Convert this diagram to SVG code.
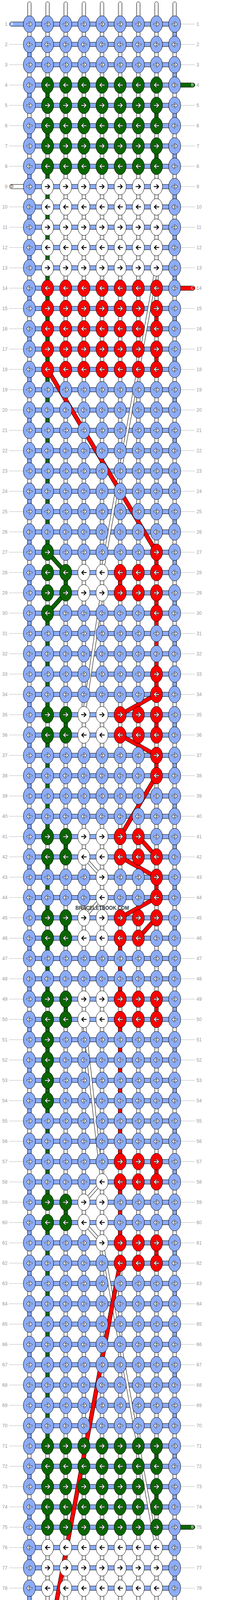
<svg xmlns="http://www.w3.org/2000/svg" width="584" height="4648" viewBox="0 0 584 4648">
<style>
text{font-family:"Liberation Sans",Arial,sans-serif}
.L,.R{font-size:12px;fill:#9a9a9a}
.L{text-anchor:end}
.s{font-size:10px;text-anchor:middle}
.b{fill:#8cacf8}.g{fill:#0a6600}.r{fill:#ff0000}.w{fill:#fff}
.gl{stroke:#bbb;stroke-width:1;fill:none}
.cg rect{stroke:#000;stroke-width:1}
</style>
<defs>
<ellipse id="e" rx="15.5" ry="21.3" stroke="#000" stroke-width="1"/>
<path id="a" d="M-6 0H5.5M0.5-5L5.5 0L0.5 5" fill="none" stroke-linecap="round" stroke-linejoin="round"/>
<g id="ar"><use href="#a" stroke="#1a1a1a" stroke-width="3.8"/><use href="#a" stroke="#fff" stroke-width="1.9"/></g>
<g id="al" transform="scale(-1 1)"><use href="#a" stroke="#1a1a1a" stroke-width="3.8"/><use href="#a" stroke="#fff" stroke-width="1.9"/></g>
<g id="kr"><use href="#a" stroke="#000" stroke-width="2.3"/></g>
<g id="kl" transform="scale(-1 1)"><use href="#a" stroke="#000" stroke-width="2.3"/></g>
<g id="BR"><use href="#e" class="b"/><use href="#ar"/></g>
<g id="BL"><use href="#e" class="b"/><use href="#al"/></g>
<g id="GR"><use href="#e" class="g"/><use href="#ar"/></g>
<g id="GL"><use href="#e" class="g"/><use href="#al"/></g>
<g id="RR"><use href="#e" class="r"/><use href="#ar"/></g>
<g id="RL"><use href="#e" class="r"/><use href="#al"/></g>
<g id="WR"><use href="#e" class="w"/><use href="#kr"/></g>
<g id="WL"><use href="#e" class="w"/><use href="#kl"/></g>
<path id="gb" class="gl" d="M23 0h37M463 0h36"/>
<path id="gL" class="gl" d="M23 0h37"/>
<path id="gR" class="gl" d="M463 0h36"/>
<path id="sl" d="M62-5.5H29.5a5.5 5.5 0 0 0 0 11H62z" stroke="#000" stroke-width="1"/>
<path id="sr" d="M440-5.5H493.5a5.5 5.5 0 0 1 0 11H440z" stroke="#000" stroke-width="1"/>
<g id="col"><rect x="-4.65" y="5" width="9.3" height="4638.6" rx="4.65" fill="#fff" stroke="#000" stroke-width="1"/><path d="M-2.2 9V4639.6M2.2 9V4639.6" stroke="#cfcfcf" stroke-width="1"/></g>
</defs>
<g transform="translate(0.3 -0.3)">
<g id="vertical-threads">
<use href="#col" x="75"/><use href="#col" x="121.5"/><use href="#col" x="168"/><use href="#col" x="214.5"/><use href="#col" x="261"/><use href="#col" x="307.5"/><use href="#col" x="354"/><use href="#col" x="400.5"/><use href="#col" x="447"/>
</g>
<g id="connectors">
<g class="cg">
<path class="b" stroke="#000" d="M70.35 128h9.3v24h-9.3zm0 104h9.3v24h-9.3zm0 104h9.3v24h-9.3zm0 104h9.3v24h-9.3zm0 104h9.3v24h-9.3zm0 104h9.3v24h-9.3zm0 104h9.3v24h-9.3zm0 104h9.3v24h-9.3zm0 104h9.3v24h-9.3zm0 104h9.3v24h-9.3zm0 104h9.3v24h-9.3zm0 104h9.3v24h-9.3zm0 104h9.3v24h-9.3zm0 104h9.3v24h-9.3zm0 104h9.3v24h-9.3zm0 104h9.3v24h-9.3zm0 104h9.3v24h-9.3zm0 104h9.3v24h-9.3zm0 104h9.3v24h-9.3zm0 104h9.3v24h-9.3zm0 104h9.3v24h-9.3zm0 104h9.3v24h-9.3zm0 104h9.3v24h-9.3zm0 104h9.3v24h-9.3zm0 104h9.3v24h-9.3zm0 104h9.3v24h-9.3zm0 104h9.3v24h-9.3zm0 104h9.3v24h-9.3zm0 104h9.3v24h-9.3zm0 104h9.3v24h-9.3zm0 104h9.3v24h-9.3zm0 104h9.3v24h-9.3zm0 104h9.3v24h-9.3zm0 104h9.3v24h-9.3zm0 104h9.3v24h-9.3zm0 104h9.3v24h-9.3zm0 104h9.3v24h-9.3zm0 104h9.3v24h-9.3zm0 104h9.3v24h-9.3zm0 104h9.3v24h-9.3zm0 104h9.3v24h-9.3zm0 104h9.3v24h-9.3zm0 104h9.3v24h-9.3z"/>
<path class="b" stroke="#000" d="M442.35 76h9.3v24h-9.3zm0 104h9.3v24h-9.3zm0 104h9.3v24h-9.3zm0 104h9.3v24h-9.3zm0 104h9.3v24h-9.3zm0 104h9.3v24h-9.3zm0 104h9.3v24h-9.3zm0 104h9.3v24h-9.3zm0 104h9.3v24h-9.3zm0 104h9.3v24h-9.3zm0 104h9.3v24h-9.3zm0 104h9.3v24h-9.3zm0 104h9.3v24h-9.3zm0 104h9.3v24h-9.3zm0 104h9.3v24h-9.3zm0 104h9.3v24h-9.3zm0 104h9.3v24h-9.3zm0 104h9.3v24h-9.3zm0 104h9.3v24h-9.3zm0 104h9.3v24h-9.3zm0 104h9.3v24h-9.3zm0 104h9.3v24h-9.3zm0 104h9.3v24h-9.3zm0 104h9.3v24h-9.3zm0 104h9.3v24h-9.3zm0 104h9.3v24h-9.3zm0 104h9.3v24h-9.3zm0 104h9.3v24h-9.3zm0 104h9.3v24h-9.3zm0 104h9.3v24h-9.3zm0 104h9.3v24h-9.3zm0 104h9.3v24h-9.3zm0 104h9.3v24h-9.3zm0 104h9.3v24h-9.3zm0 104h9.3v24h-9.3zm0 104h9.3v24h-9.3zm0 104h9.3v24h-9.3zm0 104h9.3v24h-9.3zm0 104h9.3v24h-9.3zm0 104h9.3v24h-9.3zm0 104h9.3v24h-9.3zm0 104h9.3v24h-9.3zm0 104h9.3v24h-9.3zm0 104h9.3v24h-9.3z"/>
<rect class="g" x="116.85" y="232" width="9.3" height="24"/>
<rect class="g" x="116.85" y="336" width="9.3" height="24"/>
<rect class="g" x="116.85" y="440" width="9.3" height="960"/>
<rect class="g" x="116.85" y="1584" width="9.3" height="232"/>
<rect class="g" x="116.85" y="1896" width="9.3" height="232"/>
<rect class="g" x="116.85" y="2208" width="9.3" height="128"/>
<rect class="g" x="116.85" y="2416" width="9.3" height="128"/>
<rect class="g" x="116.85" y="2624" width="9.3" height="440"/>
<rect class="g" x="116.85" y="3144" width="9.3" height="544"/>
<rect class="g" x="116.85" y="3768" width="9.3" height="24"/>
<rect class="g" x="116.85" y="3872" width="9.3" height="24"/>
<rect class="g" x="163.35" y="1480" width="9.3" height="24"/>
<rect class="g" x="163.35" y="1844" width="9.3" height="24"/>
<rect class="g" x="163.35" y="2156" width="9.3" height="24"/>
<rect class="g" x="163.35" y="2364" width="9.3" height="24"/>
<rect class="g" x="163.35" y="2572" width="9.3" height="24"/>
<rect class="g" x="163.35" y="3092" width="9.3" height="24"/>
<rect class="g" x="395.85" y="284" width="9.3" height="24"/>
<rect class="g" x="395.85" y="388" width="9.3" height="24"/>
<rect class="g" x="395.85" y="3716" width="9.3" height="24"/>
<rect class="g" x="395.85" y="3820" width="9.3" height="24"/>
<rect class="r" x="395.85" y="804" width="9.3" height="24"/>
<rect class="r" x="395.85" y="908" width="9.3" height="24"/>
<rect class="r" x="395.85" y="1428" width="9.3" height="24"/>
<rect class="r" x="395.85" y="1532" width="9.3" height="232"/>
<rect class="r" x="395.85" y="1844" width="9.3" height="24"/>
<rect class="r" x="395.85" y="1948" width="9.3" height="24"/>
<rect class="r" x="395.85" y="2260" width="9.3" height="24"/>
<rect class="r" x="395.85" y="2572" width="9.3" height="24"/>
<rect class="r" x="395.85" y="2988" width="9.3" height="24"/>
<rect class="r" x="395.85" y="3196" width="9.3" height="24"/>
<rect class="r" x="395.85" y="4236" width="9.3" height="24"/>
<rect class="r" x="395.85" y="4340" width="9.3" height="24"/>
<rect class="r" x="302.85" y="1480" width="9.3" height="24"/>
<rect class="r" x="302.85" y="2416" width="9.3" height="128"/>
<rect class="r" x="302.85" y="2624" width="9.3" height="336"/>
<rect class="r" x="302.85" y="3040" width="9.3" height="128"/>
<rect class="r" x="116.85" y="4288" width="9.3" height="24"/>
<rect class="r" x="116.85" y="4392" width="9.3" height="24"/>
</g>
<path class="b" stroke="#000" stroke-width="1" d="M75 56.5h372v11h-372zm0 52h372v11h-372zm0 52h372v11h-372zm0 52h372v11h-372zm0 52h372v11h-372zm0 52h372v11h-372zm0 52h372v11h-372zm0 52h372v11h-372zm0 52h372v11h-372zm0 52h372v11h-372zm0 52h372v11h-372zm0 52h372v11h-372zm0 52h372v11h-372zm0 52h372v11h-372zm0 52h372v11h-372zm0 52h372v11h-372zm0 52h372v11h-372zm0 52h372v11h-372zm0 52h372v11h-372zm0 52h372v11h-372zm0 52h372v11h-372zm0 52h372v11h-372zm0 52h372v11h-372zm0 52h372v11h-372zm0 52h372v11h-372zm0 52h372v11h-372zm0 52h372v11h-372zm0 52h372v11h-372zm0 52h372v11h-372zm0 52h372v11h-372zm0 52h372v11h-372zm0 52h372v11h-372zm0 52h372v11h-372zm0 52h372v11h-372zm0 52h372v11h-372zm0 52h372v11h-372zm0 52h372v11h-372zm0 52h372v11h-372zm0 52h372v11h-372zm0 52h372v11h-372zm0 52h372v11h-372zm0 52h372v11h-372zm0 52h372v11h-372zm0 52h372v11h-372zm0 52h372v11h-372zm0 52h372v11h-372zm0 52h372v11h-372zm0 52h372v11h-372zm0 52h372v11h-372zm0 52h372v11h-372zm0 52h372v11h-372zm0 52h372v11h-372zm0 52h372v11h-372zm0 52h372v11h-372zm0 52h372v11h-372zm0 52h372v11h-372zm0 52h372v11h-372zm0 52h372v11h-372zm0 52h372v11h-372zm0 52h372v11h-372zm0 52h372v11h-372zm0 52h372v11h-372zm0 52h372v11h-372zm0 52h372v11h-372zm0 52h372v11h-372zm0 52h372v11h-372zm0 52h372v11h-372zm0 52h372v11h-372zm0 52h372v11h-372zm0 52h372v11h-372zm0 52h372v11h-372zm0 52h372v11h-372zm0 52h372v11h-372zm0 52h372v11h-372zm0 52h372v11h-372zm0 52h372v11h-372zm0 52h372v11h-372zm0 52h372v11h-372zm0 52h372v11h-372zm0 52h372v11h-372zm0 52h372v11h-372zm0 52h372v11h-372zm0 52h372v11h-372zm0 52h372v11h-372zm0 52h372v11h-372z"/>
<g id="diagonals" fill="none">
<path stroke="#000" stroke-width="8" d="M400.5 686L261 1466M261 1518L214.5 1830M214.5 2194L261 2246M261 2298L214.5 2350M214.5 2610L261 3026M261 3026L214.5 3078M214.5 3130L261 3182M261 3182L400.5 3962"/>
<path stroke="#fff" stroke-width="6" d="M400.5 686L261 1466M261 1518L214.5 1830M214.5 2194L261 2246M261 2298L214.5 2350M214.5 2610L261 3026M261 3026L214.5 3078M214.5 3130L261 3182M261 3182L400.5 3962"/>
<path stroke="#000" stroke-width="11" d="M121.5 946L400.5 1414M400.5 1778L307.5 1830M307.5 1882L400.5 1934M400.5 1986L307.5 2142M354 2142L400.5 2194M307.5 2194L400.5 2246M400.5 2298L307.5 2350M400.5 2350L354 2402M307.5 3234L121.5 4222M121.5 1414L168 1466M168 1518L121.5 1570"/>
<path stroke="#ff0000" stroke-width="9" d="M121.5 946L400.5 1414M400.5 1778L307.5 1830M307.5 1882L400.5 1934M400.5 1986L307.5 2142M354 2142L400.5 2194M307.5 2194L400.5 2246M400.5 2298L307.5 2350M400.5 2350L354 2402M307.5 3234L121.5 4222"/>
<path stroke="#0a6600" stroke-width="9" d="M121.5 1414L168 1466M168 1518L121.5 1570"/>
</g>
</g>
<g id="knots">
<g id="row1" transform="translate(0 62)"><use href="#gR"/><text class="L" x="18.8" y="4.3">1</text><text class="R" x="503" y="4.3">1</text><use href="#sl" class="b"/><text class="s" x="30.5" y="3.6" fill="#fff">A</text><use id="k1-1" href="#BR" x="75"/><use id="k1-2" href="#BR" x="121.5"/><use id="k1-3" href="#BR" x="168"/><use id="k1-4" href="#BR" x="214.5"/><use id="k1-5" href="#BR" x="261"/><use id="k1-6" href="#BR" x="307.5"/><use id="k1-7" href="#BR" x="354"/><use id="k1-8" href="#BR" x="400.5"/><use id="k1-9" href="#BR" x="447"/></g>
<g id="row2" transform="translate(0 114)"><use href="#gb"/><text class="L" x="18.8" y="4.3">2</text><text class="R" x="503" y="4.3">2</text><use id="k2-1" href="#BL" x="75"/><use id="k2-2" href="#BL" x="121.5"/><use id="k2-3" href="#BL" x="168"/><use id="k2-4" href="#BL" x="214.5"/><use id="k2-5" href="#BL" x="261"/><use id="k2-6" href="#BL" x="307.5"/><use id="k2-7" href="#BL" x="354"/><use id="k2-8" href="#BL" x="400.5"/><use id="k2-9" href="#BL" x="447"/></g>
<g id="row3" transform="translate(0 166)"><use href="#gb"/><text class="L" x="18.8" y="4.3">3</text><text class="R" x="503" y="4.3">3</text><use id="k3-1" href="#BR" x="75"/><use id="k3-2" href="#BR" x="121.5"/><use id="k3-3" href="#BR" x="168"/><use id="k3-4" href="#BR" x="214.5"/><use id="k3-5" href="#BR" x="261"/><use id="k3-6" href="#BR" x="307.5"/><use id="k3-7" href="#BR" x="354"/><use id="k3-8" href="#BR" x="400.5"/><use id="k3-9" href="#BR" x="447"/></g>
<g id="row4" transform="translate(0 218)"><use href="#gL"/><text class="L" x="18.8" y="4.3">4</text><text class="R" x="503" y="4.3">4</text><use href="#sr" class="g"/><text class="s" x="492.5" y="3.6" fill="#fff">B</text><use id="k4-1" href="#BL" x="75"/><use id="k4-2" href="#GL" x="121.5"/><use id="k4-3" href="#GL" x="168"/><use id="k4-4" href="#GL" x="214.5"/><use id="k4-5" href="#GL" x="261"/><use id="k4-6" href="#GL" x="307.5"/><use id="k4-7" href="#GL" x="354"/><use id="k4-8" href="#GL" x="400.5"/><use id="k4-9" href="#BL" x="447"/></g>
<g id="row5" transform="translate(0 270)"><use href="#gb"/><text class="L" x="18.8" y="4.3">5</text><text class="R" x="503" y="4.3">5</text><use id="k5-1" href="#BR" x="75"/><use id="k5-2" href="#GR" x="121.5"/><use id="k5-3" href="#GR" x="168"/><use id="k5-4" href="#GR" x="214.5"/><use id="k5-5" href="#GR" x="261"/><use id="k5-6" href="#GR" x="307.5"/><use id="k5-7" href="#GR" x="354"/><use id="k5-8" href="#GR" x="400.5"/><use id="k5-9" href="#BR" x="447"/></g>
<g id="row6" transform="translate(0 322)"><use href="#gb"/><text class="L" x="18.8" y="4.3">6</text><text class="R" x="503" y="4.3">6</text><use id="k6-1" href="#BL" x="75"/><use id="k6-2" href="#GL" x="121.5"/><use id="k6-3" href="#GL" x="168"/><use id="k6-4" href="#GL" x="214.5"/><use id="k6-5" href="#GL" x="261"/><use id="k6-6" href="#GL" x="307.5"/><use id="k6-7" href="#GL" x="354"/><use id="k6-8" href="#GL" x="400.5"/><use id="k6-9" href="#BL" x="447"/></g>
<g id="row7" transform="translate(0 374)"><use href="#gb"/><text class="L" x="18.8" y="4.3">7</text><text class="R" x="503" y="4.3">7</text><use id="k7-1" href="#BR" x="75"/><use id="k7-2" href="#GR" x="121.5"/><use id="k7-3" href="#GR" x="168"/><use id="k7-4" href="#GR" x="214.5"/><use id="k7-5" href="#GR" x="261"/><use id="k7-6" href="#GR" x="307.5"/><use id="k7-7" href="#GR" x="354"/><use id="k7-8" href="#GR" x="400.5"/><use id="k7-9" href="#BR" x="447"/></g>
<g id="row8" transform="translate(0 426)"><use href="#gb"/><text class="L" x="18.8" y="4.3">8</text><text class="R" x="503" y="4.3">8</text><use id="k8-1" href="#BL" x="75"/><use id="k8-2" href="#GL" x="121.5"/><use id="k8-3" href="#GL" x="168"/><use id="k8-4" href="#GL" x="214.5"/><use id="k8-5" href="#GL" x="261"/><use id="k8-6" href="#GL" x="307.5"/><use id="k8-7" href="#GL" x="354"/><use id="k8-8" href="#GL" x="400.5"/><use id="k8-9" href="#BL" x="447"/></g>
<g id="row9" transform="translate(0 478)"><use href="#gR"/><text class="L" x="18.8" y="4.3">9</text><text class="R" x="503" y="4.3">9</text><use href="#sl" class="w"/><text class="s" x="30" y="3.6">D</text><use id="k9-1" href="#BR" x="75"/><use id="k9-2" href="#WR" x="121.5"/><use id="k9-3" href="#WR" x="168"/><use id="k9-4" href="#WR" x="214.5"/><use id="k9-5" href="#WR" x="261"/><use id="k9-6" href="#WR" x="307.5"/><use id="k9-7" href="#WR" x="354"/><use id="k9-8" href="#WR" x="400.5"/><use id="k9-9" href="#BR" x="447"/></g>
<g id="row10" transform="translate(0 530)"><use href="#gb"/><text class="L" x="18.8" y="4.3">10</text><text class="R" x="503" y="4.3">10</text><use id="k10-1" href="#BL" x="75"/><use id="k10-2" href="#WL" x="121.5"/><use id="k10-3" href="#WL" x="168"/><use id="k10-4" href="#WL" x="214.5"/><use id="k10-5" href="#WL" x="261"/><use id="k10-6" href="#WL" x="307.5"/><use id="k10-7" href="#WL" x="354"/><use id="k10-8" href="#WL" x="400.5"/><use id="k10-9" href="#BL" x="447"/></g>
<g id="row11" transform="translate(0 582)"><use href="#gb"/><text class="L" x="18.8" y="4.3">11</text><text class="R" x="503" y="4.3">11</text><use id="k11-1" href="#BR" x="75"/><use id="k11-2" href="#WR" x="121.5"/><use id="k11-3" href="#WR" x="168"/><use id="k11-4" href="#WR" x="214.5"/><use id="k11-5" href="#WR" x="261"/><use id="k11-6" href="#WR" x="307.5"/><use id="k11-7" href="#WR" x="354"/><use id="k11-8" href="#WR" x="400.5"/><use id="k11-9" href="#BR" x="447"/></g>
<g id="row12" transform="translate(0 634)"><use href="#gb"/><text class="L" x="18.8" y="4.3">12</text><text class="R" x="503" y="4.3">12</text><use id="k12-1" href="#BL" x="75"/><use id="k12-2" href="#WL" x="121.5"/><use id="k12-3" href="#WL" x="168"/><use id="k12-4" href="#WL" x="214.5"/><use id="k12-5" href="#WL" x="261"/><use id="k12-6" href="#WL" x="307.5"/><use id="k12-7" href="#WL" x="354"/><use id="k12-8" href="#WL" x="400.5"/><use id="k12-9" href="#BL" x="447"/></g>
<g id="row13" transform="translate(0 686)"><use href="#gb"/><text class="L" x="18.8" y="4.3">13</text><text class="R" x="503" y="4.3">13</text><use id="k13-1" href="#BR" x="75"/><use id="k13-2" href="#WR" x="121.5"/><use id="k13-3" href="#WR" x="168"/><use id="k13-4" href="#WR" x="214.5"/><use id="k13-5" href="#WR" x="261"/><use id="k13-6" href="#WR" x="307.5"/><use id="k13-7" href="#WR" x="354"/><use id="k13-8" href="#WR" x="400.5"/><use id="k13-9" href="#BR" x="447"/></g>
<g id="row14" transform="translate(0 738)"><use href="#gL"/><text class="L" x="18.8" y="4.3">14</text><text class="R" x="503" y="4.3">14</text><use href="#sr" class="r"/><text class="s" x="492.5" y="3.6" fill="#fff">C</text><use id="k14-1" href="#BL" x="75"/><use id="k14-2" href="#RL" x="121.5"/><use id="k14-3" href="#RL" x="168"/><use id="k14-4" href="#RL" x="214.5"/><use id="k14-5" href="#RL" x="261"/><use id="k14-6" href="#RL" x="307.5"/><use id="k14-7" href="#RL" x="354"/><use id="k14-8" href="#RL" x="400.5"/><use id="k14-9" href="#BL" x="447"/></g>
<g id="row15" transform="translate(0 790)"><use href="#gb"/><text class="L" x="18.8" y="4.3">15</text><text class="R" x="503" y="4.3">15</text><use id="k15-1" href="#BR" x="75"/><use id="k15-2" href="#RR" x="121.5"/><use id="k15-3" href="#RR" x="168"/><use id="k15-4" href="#RR" x="214.5"/><use id="k15-5" href="#RR" x="261"/><use id="k15-6" href="#RR" x="307.5"/><use id="k15-7" href="#RR" x="354"/><use id="k15-8" href="#RR" x="400.5"/><use id="k15-9" href="#BR" x="447"/></g>
<g id="row16" transform="translate(0 842)"><use href="#gb"/><text class="L" x="18.8" y="4.3">16</text><text class="R" x="503" y="4.3">16</text><use id="k16-1" href="#BL" x="75"/><use id="k16-2" href="#RL" x="121.5"/><use id="k16-3" href="#RL" x="168"/><use id="k16-4" href="#RL" x="214.5"/><use id="k16-5" href="#RL" x="261"/><use id="k16-6" href="#RL" x="307.5"/><use id="k16-7" href="#RL" x="354"/><use id="k16-8" href="#RL" x="400.5"/><use id="k16-9" href="#BL" x="447"/></g>
<g id="row17" transform="translate(0 894)"><use href="#gb"/><text class="L" x="18.8" y="4.3">17</text><text class="R" x="503" y="4.3">17</text><use id="k17-1" href="#BR" x="75"/><use id="k17-2" href="#RR" x="121.5"/><use id="k17-3" href="#RR" x="168"/><use id="k17-4" href="#RR" x="214.5"/><use id="k17-5" href="#RR" x="261"/><use id="k17-6" href="#RR" x="307.5"/><use id="k17-7" href="#RR" x="354"/><use id="k17-8" href="#RR" x="400.5"/><use id="k17-9" href="#BR" x="447"/></g>
<g id="row18" transform="translate(0 946)"><use href="#gb"/><text class="L" x="18.8" y="4.3">18</text><text class="R" x="503" y="4.3">18</text><use id="k18-1" href="#BL" x="75"/><use id="k18-2" href="#RL" x="121.5"/><use id="k18-3" href="#RL" x="168"/><use id="k18-4" href="#RL" x="214.5"/><use id="k18-5" href="#RL" x="261"/><use id="k18-6" href="#RL" x="307.5"/><use id="k18-7" href="#RL" x="354"/><use id="k18-8" href="#RL" x="400.5"/><use id="k18-9" href="#BL" x="447"/></g>
<g id="row19" transform="translate(0 998)"><use href="#gb"/><text class="L" x="18.8" y="4.3">19</text><text class="R" x="503" y="4.3">19</text><use id="k19-1" href="#BR" x="75"/><use id="k19-2" href="#BR" x="121.5"/><use id="k19-3" href="#BR" x="168"/><use id="k19-4" href="#BR" x="214.5"/><use id="k19-5" href="#BR" x="261"/><use id="k19-6" href="#BR" x="307.5"/><use id="k19-7" href="#BR" x="354"/><use id="k19-8" href="#BR" x="400.5"/><use id="k19-9" href="#BR" x="447"/></g>
<g id="row20" transform="translate(0 1050)"><use href="#gb"/><text class="L" x="18.8" y="4.3">20</text><text class="R" x="503" y="4.3">20</text><use id="k20-1" href="#BL" x="75"/><use id="k20-2" href="#BL" x="121.5"/><use id="k20-3" href="#BL" x="168"/><use id="k20-4" href="#BL" x="214.5"/><use id="k20-5" href="#BL" x="261"/><use id="k20-6" href="#BL" x="307.5"/><use id="k20-7" href="#BL" x="354"/><use id="k20-8" href="#BL" x="400.5"/><use id="k20-9" href="#BL" x="447"/></g>
<g id="row21" transform="translate(0 1102)"><use href="#gb"/><text class="L" x="18.8" y="4.3">21</text><text class="R" x="503" y="4.3">21</text><use id="k21-1" href="#BR" x="75"/><use id="k21-2" href="#BR" x="121.5"/><use id="k21-3" href="#BR" x="168"/><use id="k21-4" href="#BR" x="214.5"/><use id="k21-5" href="#BR" x="261"/><use id="k21-6" href="#BR" x="307.5"/><use id="k21-7" href="#BR" x="354"/><use id="k21-8" href="#BR" x="400.5"/><use id="k21-9" href="#BR" x="447"/></g>
<g id="row22" transform="translate(0 1154)"><use href="#gb"/><text class="L" x="18.8" y="4.3">22</text><text class="R" x="503" y="4.3">22</text><use id="k22-1" href="#BL" x="75"/><use id="k22-2" href="#BL" x="121.5"/><use id="k22-3" href="#BL" x="168"/><use id="k22-4" href="#BL" x="214.5"/><use id="k22-5" href="#BL" x="261"/><use id="k22-6" href="#BL" x="307.5"/><use id="k22-7" href="#BL" x="354"/><use id="k22-8" href="#BL" x="400.5"/><use id="k22-9" href="#BL" x="447"/></g>
<g id="row23" transform="translate(0 1206)"><use href="#gb"/><text class="L" x="18.8" y="4.3">23</text><text class="R" x="503" y="4.3">23</text><use id="k23-1" href="#BR" x="75"/><use id="k23-2" href="#BR" x="121.5"/><use id="k23-3" href="#BR" x="168"/><use id="k23-4" href="#BR" x="214.5"/><use id="k23-5" href="#BR" x="261"/><use id="k23-6" href="#BR" x="307.5"/><use id="k23-7" href="#BR" x="354"/><use id="k23-8" href="#BR" x="400.5"/><use id="k23-9" href="#BR" x="447"/></g>
<g id="row24" transform="translate(0 1258)"><use href="#gb"/><text class="L" x="18.8" y="4.3">24</text><text class="R" x="503" y="4.3">24</text><use id="k24-1" href="#BL" x="75"/><use id="k24-2" href="#BL" x="121.5"/><use id="k24-3" href="#BL" x="168"/><use id="k24-4" href="#BL" x="214.5"/><use id="k24-5" href="#BL" x="261"/><use id="k24-6" href="#BL" x="307.5"/><use id="k24-7" href="#BL" x="354"/><use id="k24-8" href="#BL" x="400.5"/><use id="k24-9" href="#BL" x="447"/></g>
<g id="row25" transform="translate(0 1310)"><use href="#gb"/><text class="L" x="18.8" y="4.3">25</text><text class="R" x="503" y="4.3">25</text><use id="k25-1" href="#BR" x="75"/><use id="k25-2" href="#BR" x="121.5"/><use id="k25-3" href="#BR" x="168"/><use id="k25-4" href="#BR" x="214.5"/><use id="k25-5" href="#BR" x="261"/><use id="k25-6" href="#BR" x="307.5"/><use id="k25-7" href="#BR" x="354"/><use id="k25-8" href="#BR" x="400.5"/><use id="k25-9" href="#BR" x="447"/></g>
<g id="row26" transform="translate(0 1362)"><use href="#gb"/><text class="L" x="18.8" y="4.3">26</text><text class="R" x="503" y="4.3">26</text><use id="k26-1" href="#BL" x="75"/><use id="k26-2" href="#BL" x="121.5"/><use id="k26-3" href="#BL" x="168"/><use id="k26-4" href="#BL" x="214.5"/><use id="k26-5" href="#BL" x="261"/><use id="k26-6" href="#BL" x="307.5"/><use id="k26-7" href="#BL" x="354"/><use id="k26-8" href="#BL" x="400.5"/><use id="k26-9" href="#BL" x="447"/></g>
<g id="row27" transform="translate(0 1414)"><use href="#gb"/><text class="L" x="18.8" y="4.3">27</text><text class="R" x="503" y="4.3">27</text><use id="k27-1" href="#BR" x="75"/><use id="k27-2" href="#GR" x="121.5"/><use id="k27-3" href="#BR" x="168"/><use id="k27-4" href="#BR" x="214.5"/><use id="k27-5" href="#BR" x="261"/><use id="k27-6" href="#BR" x="307.5"/><use id="k27-7" href="#BR" x="354"/><use id="k27-8" href="#RR" x="400.5"/><use id="k27-9" href="#BR" x="447"/></g>
<g id="row28" transform="translate(0 1466)"><use href="#gb"/><text class="L" x="18.8" y="4.3">28</text><text class="R" x="503" y="4.3">28</text><use id="k28-1" href="#BL" x="75"/><use id="k28-2" href="#GL" x="121.5"/><use id="k28-3" href="#GL" x="168"/><use id="k28-4" href="#WL" x="214.5"/><use id="k28-5" href="#WL" x="261"/><use id="k28-6" href="#RL" x="307.5"/><use id="k28-7" href="#RL" x="354"/><use id="k28-8" href="#RL" x="400.5"/><use id="k28-9" href="#BL" x="447"/></g>
<g id="row29" transform="translate(0 1518)"><use href="#gb"/><text class="L" x="18.8" y="4.3">29</text><text class="R" x="503" y="4.3">29</text><use id="k29-1" href="#BR" x="75"/><use id="k29-2" href="#GR" x="121.5"/><use id="k29-3" href="#GR" x="168"/><use id="k29-4" href="#WR" x="214.5"/><use id="k29-5" href="#WR" x="261"/><use id="k29-6" href="#RR" x="307.5"/><use id="k29-7" href="#RR" x="354"/><use id="k29-8" href="#RR" x="400.5"/><use id="k29-9" href="#BR" x="447"/></g>
<g id="row30" transform="translate(0 1570)"><use href="#gb"/><text class="L" x="18.8" y="4.3">30</text><text class="R" x="503" y="4.3">30</text><use id="k30-1" href="#BL" x="75"/><use id="k30-2" href="#GL" x="121.5"/><use id="k30-3" href="#BL" x="168"/><use id="k30-4" href="#BL" x="214.5"/><use id="k30-5" href="#BL" x="261"/><use id="k30-6" href="#BL" x="307.5"/><use id="k30-7" href="#BL" x="354"/><use id="k30-8" href="#RL" x="400.5"/><use id="k30-9" href="#BL" x="447"/></g>
<g id="row31" transform="translate(0 1622)"><use href="#gb"/><text class="L" x="18.8" y="4.3">31</text><text class="R" x="503" y="4.3">31</text><use id="k31-1" href="#BR" x="75"/><use id="k31-2" href="#BR" x="121.5"/><use id="k31-3" href="#BR" x="168"/><use id="k31-4" href="#BR" x="214.5"/><use id="k31-5" href="#BR" x="261"/><use id="k31-6" href="#BR" x="307.5"/><use id="k31-7" href="#BR" x="354"/><use id="k31-8" href="#BR" x="400.5"/><use id="k31-9" href="#BR" x="447"/></g>
<g id="row32" transform="translate(0 1674)"><use href="#gb"/><text class="L" x="18.8" y="4.3">32</text><text class="R" x="503" y="4.3">32</text><use id="k32-1" href="#BL" x="75"/><use id="k32-2" href="#BL" x="121.5"/><use id="k32-3" href="#BL" x="168"/><use id="k32-4" href="#BL" x="214.5"/><use id="k32-5" href="#BL" x="261"/><use id="k32-6" href="#BL" x="307.5"/><use id="k32-7" href="#BL" x="354"/><use id="k32-8" href="#BL" x="400.5"/><use id="k32-9" href="#BL" x="447"/></g>
<g id="row33" transform="translate(0 1726)"><use href="#gb"/><text class="L" x="18.8" y="4.3">33</text><text class="R" x="503" y="4.3">33</text><use id="k33-1" href="#BR" x="75"/><use id="k33-2" href="#BR" x="121.5"/><use id="k33-3" href="#BR" x="168"/><use id="k33-4" href="#BR" x="214.5"/><use id="k33-5" href="#BR" x="261"/><use id="k33-6" href="#BR" x="307.5"/><use id="k33-7" href="#BR" x="354"/><use id="k33-8" href="#RR" x="400.5"/><use id="k33-9" href="#BR" x="447"/></g>
<g id="row34" transform="translate(0 1778)"><use href="#gb"/><text class="L" x="18.8" y="4.3">34</text><text class="R" x="503" y="4.3">34</text><use id="k34-1" href="#BL" x="75"/><use id="k34-2" href="#BL" x="121.5"/><use id="k34-3" href="#BL" x="168"/><use id="k34-4" href="#BL" x="214.5"/><use id="k34-5" href="#BL" x="261"/><use id="k34-6" href="#BL" x="307.5"/><use id="k34-7" href="#BL" x="354"/><use id="k34-8" href="#RL" x="400.5"/><use id="k34-9" href="#BL" x="447"/></g>
<g id="row35" transform="translate(0 1830)"><use href="#gb"/><text class="L" x="18.8" y="4.3">35</text><text class="R" x="503" y="4.3">35</text><use id="k35-1" href="#BR" x="75"/><use id="k35-2" href="#GR" x="121.5"/><use id="k35-3" href="#GR" x="168"/><use id="k35-4" href="#WR" x="214.5"/><use id="k35-5" href="#WR" x="261"/><use id="k35-6" href="#RR" x="307.5"/><use id="k35-7" href="#RR" x="354"/><use id="k35-8" href="#RR" x="400.5"/><use id="k35-9" href="#BR" x="447"/></g>
<g id="row36" transform="translate(0 1882)"><use href="#gb"/><text class="L" x="18.8" y="4.3">36</text><text class="R" x="503" y="4.3">36</text><use id="k36-1" href="#BL" x="75"/><use id="k36-2" href="#GL" x="121.5"/><use id="k36-3" href="#GL" x="168"/><use id="k36-4" href="#WL" x="214.5"/><use id="k36-5" href="#WL" x="261"/><use id="k36-6" href="#RL" x="307.5"/><use id="k36-7" href="#RL" x="354"/><use id="k36-8" href="#RL" x="400.5"/><use id="k36-9" href="#BL" x="447"/></g>
<g id="row37" transform="translate(0 1934)"><use href="#gb"/><text class="L" x="18.8" y="4.3">37</text><text class="R" x="503" y="4.3">37</text><use id="k37-1" href="#BR" x="75"/><use id="k37-2" href="#BR" x="121.5"/><use id="k37-3" href="#BR" x="168"/><use id="k37-4" href="#BR" x="214.5"/><use id="k37-5" href="#BR" x="261"/><use id="k37-6" href="#BR" x="307.5"/><use id="k37-7" href="#BR" x="354"/><use id="k37-8" href="#RR" x="400.5"/><use id="k37-9" href="#BR" x="447"/></g>
<g id="row38" transform="translate(0 1986)"><use href="#gb"/><text class="L" x="18.8" y="4.3">38</text><text class="R" x="503" y="4.3">38</text><use id="k38-1" href="#BL" x="75"/><use id="k38-2" href="#BL" x="121.5"/><use id="k38-3" href="#BL" x="168"/><use id="k38-4" href="#BL" x="214.5"/><use id="k38-5" href="#BL" x="261"/><use id="k38-6" href="#BL" x="307.5"/><use id="k38-7" href="#BL" x="354"/><use id="k38-8" href="#RL" x="400.5"/><use id="k38-9" href="#BL" x="447"/></g>
<g id="row39" transform="translate(0 2038)"><use href="#gb"/><text class="L" x="18.8" y="4.3">39</text><text class="R" x="503" y="4.3">39</text><use id="k39-1" href="#BR" x="75"/><use id="k39-2" href="#BR" x="121.5"/><use id="k39-3" href="#BR" x="168"/><use id="k39-4" href="#BR" x="214.5"/><use id="k39-5" href="#BR" x="261"/><use id="k39-6" href="#BR" x="307.5"/><use id="k39-7" href="#BR" x="354"/><use id="k39-8" href="#BR" x="400.5"/><use id="k39-9" href="#BR" x="447"/></g>
<g id="row40" transform="translate(0 2090)"><use href="#gb"/><text class="L" x="18.8" y="4.3">40</text><text class="R" x="503" y="4.3">40</text><use id="k40-1" href="#BL" x="75"/><use id="k40-2" href="#BL" x="121.5"/><use id="k40-3" href="#BL" x="168"/><use id="k40-4" href="#BL" x="214.5"/><use id="k40-5" href="#BL" x="261"/><use id="k40-6" href="#BL" x="307.5"/><use id="k40-7" href="#BL" x="354"/><use id="k40-8" href="#BL" x="400.5"/><use id="k40-9" href="#BL" x="447"/></g>
<g id="row41" transform="translate(0 2142)"><use href="#gb"/><text class="L" x="18.8" y="4.3">41</text><text class="R" x="503" y="4.3">41</text><use id="k41-1" href="#BR" x="75"/><use id="k41-2" href="#GR" x="121.5"/><use id="k41-3" href="#GR" x="168"/><use id="k41-4" href="#WR" x="214.5"/><use id="k41-5" href="#WR" x="261"/><use id="k41-6" href="#RR" x="307.5"/><use id="k41-7" href="#RR" x="354"/><use id="k41-8" href="#BR" x="400.5"/><use id="k41-9" href="#BR" x="447"/></g>
<g id="row42" transform="translate(0 2194)"><use href="#gb"/><text class="L" x="18.8" y="4.3">42</text><text class="R" x="503" y="4.3">42</text><use id="k42-1" href="#BL" x="75"/><use id="k42-2" href="#GL" x="121.5"/><use id="k42-3" href="#GL" x="168"/><use id="k42-4" href="#WL" x="214.5"/><use id="k42-5" href="#WL" x="261"/><use id="k42-6" href="#RL" x="307.5"/><use id="k42-7" href="#RL" x="354"/><use id="k42-8" href="#RL" x="400.5"/><use id="k42-9" href="#BL" x="447"/></g>
<g id="row43" transform="translate(0 2246)"><use href="#gb"/><text class="L" x="18.8" y="4.3">43</text><text class="R" x="503" y="4.3">43</text><use id="k43-1" href="#BR" x="75"/><use id="k43-2" href="#BR" x="121.5"/><use id="k43-3" href="#BR" x="168"/><use id="k43-4" href="#BR" x="214.5"/><use id="k43-5" href="#WR" x="261"/><use id="k43-6" href="#BR" x="307.5"/><use id="k43-7" href="#BR" x="354"/><use id="k43-8" href="#RR" x="400.5"/><use id="k43-9" href="#BR" x="447"/></g>
<g id="row44" transform="translate(0 2298)"><use href="#gb"/><text class="L" x="18.8" y="4.3">44</text><text class="R" x="503" y="4.3">44</text><use id="k44-1" href="#BL" x="75"/><use id="k44-2" href="#BL" x="121.5"/><use id="k44-3" href="#BL" x="168"/><use id="k44-4" href="#BL" x="214.5"/><use id="k44-5" href="#WL" x="261"/><use id="k44-6" href="#BL" x="307.5"/><use id="k44-7" href="#BL" x="354"/><use id="k44-8" href="#RL" x="400.5"/><use id="k44-9" href="#BL" x="447"/></g>
<g id="row45" transform="translate(0 2350)"><use href="#gb"/><text class="L" x="18.8" y="4.3">45</text><text class="R" x="503" y="4.3">45</text><use id="k45-1" href="#BR" x="75"/><use id="k45-2" href="#GR" x="121.5"/><use id="k45-3" href="#GR" x="168"/><use id="k45-4" href="#WR" x="214.5"/><use id="k45-5" href="#WR" x="261"/><use id="k45-6" href="#RR" x="307.5"/><use id="k45-7" href="#RR" x="354"/><use id="k45-8" href="#RR" x="400.5"/><use id="k45-9" href="#BR" x="447"/></g>
<g id="row46" transform="translate(0 2402)"><use href="#gb"/><text class="L" x="18.8" y="4.3">46</text><text class="R" x="503" y="4.3">46</text><use id="k46-1" href="#BL" x="75"/><use id="k46-2" href="#GL" x="121.5"/><use id="k46-3" href="#GL" x="168"/><use id="k46-4" href="#WL" x="214.5"/><use id="k46-5" href="#WL" x="261"/><use id="k46-6" href="#RL" x="307.5"/><use id="k46-7" href="#RL" x="354"/><use id="k46-8" href="#BL" x="400.5"/><use id="k46-9" href="#BL" x="447"/></g>
<g id="row47" transform="translate(0 2454)"><use href="#gb"/><text class="L" x="18.8" y="4.3">47</text><text class="R" x="503" y="4.3">47</text><use id="k47-1" href="#BR" x="75"/><use id="k47-2" href="#BR" x="121.5"/><use id="k47-3" href="#BR" x="168"/><use id="k47-4" href="#BR" x="214.5"/><use id="k47-5" href="#BR" x="261"/><use id="k47-6" href="#BR" x="307.5"/><use id="k47-7" href="#BR" x="354"/><use id="k47-8" href="#BR" x="400.5"/><use id="k47-9" href="#BR" x="447"/></g>
<g id="row48" transform="translate(0 2506)"><use href="#gb"/><text class="L" x="18.8" y="4.3">48</text><text class="R" x="503" y="4.3">48</text><use id="k48-1" href="#BL" x="75"/><use id="k48-2" href="#BL" x="121.5"/><use id="k48-3" href="#BL" x="168"/><use id="k48-4" href="#BL" x="214.5"/><use id="k48-5" href="#BL" x="261"/><use id="k48-6" href="#BL" x="307.5"/><use id="k48-7" href="#BL" x="354"/><use id="k48-8" href="#BL" x="400.5"/><use id="k48-9" href="#BL" x="447"/></g>
<g id="row49" transform="translate(0 2558)"><use href="#gb"/><text class="L" x="18.8" y="4.3">49</text><text class="R" x="503" y="4.3">49</text><use id="k49-1" href="#BR" x="75"/><use id="k49-2" href="#GR" x="121.5"/><use id="k49-3" href="#GR" x="168"/><use id="k49-4" href="#WR" x="214.5"/><use id="k49-5" href="#WR" x="261"/><use id="k49-6" href="#RR" x="307.5"/><use id="k49-7" href="#RR" x="354"/><use id="k49-8" href="#RR" x="400.5"/><use id="k49-9" href="#BR" x="447"/></g>
<g id="row50" transform="translate(0 2610)"><use href="#gb"/><text class="L" x="18.8" y="4.3">50</text><text class="R" x="503" y="4.3">50</text><use id="k50-1" href="#BL" x="75"/><use id="k50-2" href="#GL" x="121.5"/><use id="k50-3" href="#GL" x="168"/><use id="k50-4" href="#WL" x="214.5"/><use id="k50-5" href="#WL" x="261"/><use id="k50-6" href="#RL" x="307.5"/><use id="k50-7" href="#RL" x="354"/><use id="k50-8" href="#RL" x="400.5"/><use id="k50-9" href="#BL" x="447"/></g>
<g id="row51" transform="translate(0 2662)"><use href="#gb"/><text class="L" x="18.8" y="4.3">51</text><text class="R" x="503" y="4.3">51</text><use id="k51-1" href="#BR" x="75"/><use id="k51-2" href="#GR" x="121.5"/><use id="k51-3" href="#BR" x="168"/><use id="k51-4" href="#BR" x="214.5"/><use id="k51-5" href="#BR" x="261"/><use id="k51-6" href="#BR" x="307.5"/><use id="k51-7" href="#BR" x="354"/><use id="k51-8" href="#BR" x="400.5"/><use id="k51-9" href="#BR" x="447"/></g>
<g id="row52" transform="translate(0 2714)"><use href="#gb"/><text class="L" x="18.8" y="4.3">52</text><text class="R" x="503" y="4.3">52</text><use id="k52-1" href="#BL" x="75"/><use id="k52-2" href="#GL" x="121.5"/><use id="k52-3" href="#BL" x="168"/><use id="k52-4" href="#BL" x="214.5"/><use id="k52-5" href="#BL" x="261"/><use id="k52-6" href="#BL" x="307.5"/><use id="k52-7" href="#BL" x="354"/><use id="k52-8" href="#BL" x="400.5"/><use id="k52-9" href="#BL" x="447"/></g>
<g id="row53" transform="translate(0 2766)"><use href="#gb"/><text class="L" x="18.8" y="4.3">53</text><text class="R" x="503" y="4.3">53</text><use id="k53-1" href="#BR" x="75"/><use id="k53-2" href="#GR" x="121.5"/><use id="k53-3" href="#BR" x="168"/><use id="k53-4" href="#BR" x="214.5"/><use id="k53-5" href="#BR" x="261"/><use id="k53-6" href="#BR" x="307.5"/><use id="k53-7" href="#BR" x="354"/><use id="k53-8" href="#BR" x="400.5"/><use id="k53-9" href="#BR" x="447"/></g>
<g id="row54" transform="translate(0 2818)"><use href="#gb"/><text class="L" x="18.8" y="4.3">54</text><text class="R" x="503" y="4.3">54</text><use id="k54-1" href="#BL" x="75"/><use id="k54-2" href="#GL" x="121.5"/><use id="k54-3" href="#BL" x="168"/><use id="k54-4" href="#BL" x="214.5"/><use id="k54-5" href="#BL" x="261"/><use id="k54-6" href="#BL" x="307.5"/><use id="k54-7" href="#BL" x="354"/><use id="k54-8" href="#BL" x="400.5"/><use id="k54-9" href="#BL" x="447"/></g>
<g id="row55" transform="translate(0 2870)"><use href="#gb"/><text class="L" x="18.8" y="4.3">55</text><text class="R" x="503" y="4.3">55</text><use id="k55-1" href="#BR" x="75"/><use id="k55-2" href="#BR" x="121.5"/><use id="k55-3" href="#BR" x="168"/><use id="k55-4" href="#BR" x="214.5"/><use id="k55-5" href="#BR" x="261"/><use id="k55-6" href="#BR" x="307.5"/><use id="k55-7" href="#BR" x="354"/><use id="k55-8" href="#BR" x="400.5"/><use id="k55-9" href="#BR" x="447"/></g>
<g id="row56" transform="translate(0 2922)"><use href="#gb"/><text class="L" x="18.8" y="4.3">56</text><text class="R" x="503" y="4.3">56</text><use id="k56-1" href="#BL" x="75"/><use id="k56-2" href="#BL" x="121.5"/><use id="k56-3" href="#BL" x="168"/><use id="k56-4" href="#BL" x="214.5"/><use id="k56-5" href="#BL" x="261"/><use id="k56-6" href="#BL" x="307.5"/><use id="k56-7" href="#BL" x="354"/><use id="k56-8" href="#BL" x="400.5"/><use id="k56-9" href="#BL" x="447"/></g>
<g id="row57" transform="translate(0 2974)"><use href="#gb"/><text class="L" x="18.8" y="4.3">57</text><text class="R" x="503" y="4.3">57</text><use id="k57-1" href="#BR" x="75"/><use id="k57-2" href="#BR" x="121.5"/><use id="k57-3" href="#BR" x="168"/><use id="k57-4" href="#BR" x="214.5"/><use id="k57-5" href="#BR" x="261"/><use id="k57-6" href="#RR" x="307.5"/><use id="k57-7" href="#RR" x="354"/><use id="k57-8" href="#RR" x="400.5"/><use id="k57-9" href="#BR" x="447"/></g>
<g id="row58" transform="translate(0 3026)"><use href="#gb"/><text class="L" x="18.8" y="4.3">58</text><text class="R" x="503" y="4.3">58</text><use id="k58-1" href="#BL" x="75"/><use id="k58-2" href="#BL" x="121.5"/><use id="k58-3" href="#BL" x="168"/><use id="k58-4" href="#BL" x="214.5"/><use id="k58-5" href="#WL" x="261"/><use id="k58-6" href="#RL" x="307.5"/><use id="k58-7" href="#RL" x="354"/><use id="k58-8" href="#RL" x="400.5"/><use id="k58-9" href="#BL" x="447"/></g>
<g id="row59" transform="translate(0 3078)"><use href="#gb"/><text class="L" x="18.8" y="4.3">59</text><text class="R" x="503" y="4.3">59</text><use id="k59-1" href="#BR" x="75"/><use id="k59-2" href="#GR" x="121.5"/><use id="k59-3" href="#GR" x="168"/><use id="k59-4" href="#WR" x="214.5"/><use id="k59-5" href="#WR" x="261"/><use id="k59-6" href="#BR" x="307.5"/><use id="k59-7" href="#BR" x="354"/><use id="k59-8" href="#BR" x="400.5"/><use id="k59-9" href="#BR" x="447"/></g>
<g id="row60" transform="translate(0 3130)"><use href="#gb"/><text class="L" x="18.8" y="4.3">60</text><text class="R" x="503" y="4.3">60</text><use id="k60-1" href="#BL" x="75"/><use id="k60-2" href="#GL" x="121.5"/><use id="k60-3" href="#GL" x="168"/><use id="k60-4" href="#WL" x="214.5"/><use id="k60-5" href="#WL" x="261"/><use id="k60-6" href="#BL" x="307.5"/><use id="k60-7" href="#BL" x="354"/><use id="k60-8" href="#BL" x="400.5"/><use id="k60-9" href="#BL" x="447"/></g>
<g id="row61" transform="translate(0 3182)"><use href="#gb"/><text class="L" x="18.8" y="4.3">61</text><text class="R" x="503" y="4.3">61</text><use id="k61-1" href="#BR" x="75"/><use id="k61-2" href="#BR" x="121.5"/><use id="k61-3" href="#BR" x="168"/><use id="k61-4" href="#BR" x="214.5"/><use id="k61-5" href="#WR" x="261"/><use id="k61-6" href="#RR" x="307.5"/><use id="k61-7" href="#RR" x="354"/><use id="k61-8" href="#RR" x="400.5"/><use id="k61-9" href="#BR" x="447"/></g>
<g id="row62" transform="translate(0 3234)"><use href="#gb"/><text class="L" x="18.8" y="4.3">62</text><text class="R" x="503" y="4.3">62</text><use id="k62-1" href="#BL" x="75"/><use id="k62-2" href="#BL" x="121.5"/><use id="k62-3" href="#BL" x="168"/><use id="k62-4" href="#BL" x="214.5"/><use id="k62-5" href="#BL" x="261"/><use id="k62-6" href="#RL" x="307.5"/><use id="k62-7" href="#RL" x="354"/><use id="k62-8" href="#RL" x="400.5"/><use id="k62-9" href="#BL" x="447"/></g>
<g id="row63" transform="translate(0 3286)"><use href="#gb"/><text class="L" x="18.8" y="4.3">63</text><text class="R" x="503" y="4.3">63</text><use id="k63-1" href="#BR" x="75"/><use id="k63-2" href="#BR" x="121.5"/><use id="k63-3" href="#BR" x="168"/><use id="k63-4" href="#BR" x="214.5"/><use id="k63-5" href="#BR" x="261"/><use id="k63-6" href="#BR" x="307.5"/><use id="k63-7" href="#BR" x="354"/><use id="k63-8" href="#BR" x="400.5"/><use id="k63-9" href="#BR" x="447"/></g>
<g id="row64" transform="translate(0 3338)"><use href="#gb"/><text class="L" x="18.8" y="4.3">64</text><text class="R" x="503" y="4.3">64</text><use id="k64-1" href="#BL" x="75"/><use id="k64-2" href="#BL" x="121.5"/><use id="k64-3" href="#BL" x="168"/><use id="k64-4" href="#BL" x="214.5"/><use id="k64-5" href="#BL" x="261"/><use id="k64-6" href="#BL" x="307.5"/><use id="k64-7" href="#BL" x="354"/><use id="k64-8" href="#BL" x="400.5"/><use id="k64-9" href="#BL" x="447"/></g>
<g id="row65" transform="translate(0 3390)"><use href="#gb"/><text class="L" x="18.8" y="4.3">65</text><text class="R" x="503" y="4.3">65</text><use id="k65-1" href="#BR" x="75"/><use id="k65-2" href="#BR" x="121.5"/><use id="k65-3" href="#BR" x="168"/><use id="k65-4" href="#BR" x="214.5"/><use id="k65-5" href="#BR" x="261"/><use id="k65-6" href="#BR" x="307.5"/><use id="k65-7" href="#BR" x="354"/><use id="k65-8" href="#BR" x="400.5"/><use id="k65-9" href="#BR" x="447"/></g>
<g id="row66" transform="translate(0 3442)"><use href="#gb"/><text class="L" x="18.8" y="4.3">66</text><text class="R" x="503" y="4.3">66</text><use id="k66-1" href="#BL" x="75"/><use id="k66-2" href="#BL" x="121.5"/><use id="k66-3" href="#BL" x="168"/><use id="k66-4" href="#BL" x="214.5"/><use id="k66-5" href="#BL" x="261"/><use id="k66-6" href="#BL" x="307.5"/><use id="k66-7" href="#BL" x="354"/><use id="k66-8" href="#BL" x="400.5"/><use id="k66-9" href="#BL" x="447"/></g>
<g id="row67" transform="translate(0 3494)"><use href="#gb"/><text class="L" x="18.8" y="4.3">67</text><text class="R" x="503" y="4.3">67</text><use id="k67-1" href="#BR" x="75"/><use id="k67-2" href="#BR" x="121.5"/><use id="k67-3" href="#BR" x="168"/><use id="k67-4" href="#BR" x="214.5"/><use id="k67-5" href="#BR" x="261"/><use id="k67-6" href="#BR" x="307.5"/><use id="k67-7" href="#BR" x="354"/><use id="k67-8" href="#BR" x="400.5"/><use id="k67-9" href="#BR" x="447"/></g>
<g id="row68" transform="translate(0 3546)"><use href="#gb"/><text class="L" x="18.8" y="4.3">68</text><text class="R" x="503" y="4.3">68</text><use id="k68-1" href="#BL" x="75"/><use id="k68-2" href="#BL" x="121.5"/><use id="k68-3" href="#BL" x="168"/><use id="k68-4" href="#BL" x="214.5"/><use id="k68-5" href="#BL" x="261"/><use id="k68-6" href="#BL" x="307.5"/><use id="k68-7" href="#BL" x="354"/><use id="k68-8" href="#BL" x="400.5"/><use id="k68-9" href="#BL" x="447"/></g>
<g id="row69" transform="translate(0 3598)"><use href="#gb"/><text class="L" x="18.8" y="4.3">69</text><text class="R" x="503" y="4.3">69</text><use id="k69-1" href="#BR" x="75"/><use id="k69-2" href="#BR" x="121.5"/><use id="k69-3" href="#BR" x="168"/><use id="k69-4" href="#BR" x="214.5"/><use id="k69-5" href="#BR" x="261"/><use id="k69-6" href="#BR" x="307.5"/><use id="k69-7" href="#BR" x="354"/><use id="k69-8" href="#BR" x="400.5"/><use id="k69-9" href="#BR" x="447"/></g>
<g id="row70" transform="translate(0 3650)"><use href="#gb"/><text class="L" x="18.8" y="4.3">70</text><text class="R" x="503" y="4.3">70</text><use id="k70-1" href="#BL" x="75"/><use id="k70-2" href="#BL" x="121.5"/><use id="k70-3" href="#BL" x="168"/><use id="k70-4" href="#BL" x="214.5"/><use id="k70-5" href="#BL" x="261"/><use id="k70-6" href="#BL" x="307.5"/><use id="k70-7" href="#BL" x="354"/><use id="k70-8" href="#BL" x="400.5"/><use id="k70-9" href="#BL" x="447"/></g>
<g id="row71" transform="translate(0 3702)"><use href="#gb"/><text class="L" x="18.8" y="4.3">71</text><text class="R" x="503" y="4.3">71</text><use id="k71-1" href="#BR" x="75"/><use id="k71-2" href="#GR" x="121.5"/><use id="k71-3" href="#GR" x="168"/><use id="k71-4" href="#GR" x="214.5"/><use id="k71-5" href="#GR" x="261"/><use id="k71-6" href="#GR" x="307.5"/><use id="k71-7" href="#GR" x="354"/><use id="k71-8" href="#GR" x="400.5"/><use id="k71-9" href="#BR" x="447"/></g>
<g id="row72" transform="translate(0 3754)"><use href="#gb"/><text class="L" x="18.8" y="4.3">72</text><text class="R" x="503" y="4.3">72</text><use id="k72-1" href="#BL" x="75"/><use id="k72-2" href="#GL" x="121.5"/><use id="k72-3" href="#GL" x="168"/><use id="k72-4" href="#GL" x="214.5"/><use id="k72-5" href="#GL" x="261"/><use id="k72-6" href="#GL" x="307.5"/><use id="k72-7" href="#GL" x="354"/><use id="k72-8" href="#GL" x="400.5"/><use id="k72-9" href="#BL" x="447"/></g>
<g id="row73" transform="translate(0 3806)"><use href="#gb"/><text class="L" x="18.8" y="4.3">73</text><text class="R" x="503" y="4.3">73</text><use id="k73-1" href="#BR" x="75"/><use id="k73-2" href="#GR" x="121.5"/><use id="k73-3" href="#GR" x="168"/><use id="k73-4" href="#GR" x="214.5"/><use id="k73-5" href="#GR" x="261"/><use id="k73-6" href="#GR" x="307.5"/><use id="k73-7" href="#GR" x="354"/><use id="k73-8" href="#GR" x="400.5"/><use id="k73-9" href="#BR" x="447"/></g>
<g id="row74" transform="translate(0 3858)"><use href="#gb"/><text class="L" x="18.8" y="4.3">74</text><text class="R" x="503" y="4.3">74</text><use id="k74-1" href="#BL" x="75"/><use id="k74-2" href="#GL" x="121.5"/><use id="k74-3" href="#GL" x="168"/><use id="k74-4" href="#GL" x="214.5"/><use id="k74-5" href="#GL" x="261"/><use id="k74-6" href="#GL" x="307.5"/><use id="k74-7" href="#GL" x="354"/><use id="k74-8" href="#GL" x="400.5"/><use id="k74-9" href="#BL" x="447"/></g>
<g id="row75" transform="translate(0 3910)"><use href="#gL"/><text class="L" x="18.8" y="4.3">75</text><text class="R" x="503" y="4.3">75</text><use href="#sr" class="g"/><text class="s" x="492.5" y="3.6" fill="#fff">B</text><use id="k75-1" href="#BR" x="75"/><use id="k75-2" href="#GR" x="121.5"/><use id="k75-3" href="#GR" x="168"/><use id="k75-4" href="#GR" x="214.5"/><use id="k75-5" href="#GR" x="261"/><use id="k75-6" href="#GR" x="307.5"/><use id="k75-7" href="#GR" x="354"/><use id="k75-8" href="#GR" x="400.5"/><use id="k75-9" href="#BR" x="447"/></g>
<g id="row76" transform="translate(0 3962)"><use href="#gb"/><text class="L" x="18.8" y="4.3">76</text><text class="R" x="503" y="4.3">76</text><use id="k76-1" href="#BL" x="75"/><use id="k76-2" href="#WL" x="121.5"/><use id="k76-3" href="#WL" x="168"/><use id="k76-4" href="#WL" x="214.5"/><use id="k76-5" href="#WL" x="261"/><use id="k76-6" href="#WL" x="307.5"/><use id="k76-7" href="#WL" x="354"/><use id="k76-8" href="#WL" x="400.5"/><use id="k76-9" href="#BL" x="447"/></g>
<g id="row77" transform="translate(0 4014)"><use href="#gb"/><text class="L" x="18.8" y="4.3">77</text><text class="R" x="503" y="4.3">77</text><use id="k77-1" href="#BR" x="75"/><use id="k77-2" href="#WR" x="121.5"/><use id="k77-3" href="#WR" x="168"/><use id="k77-4" href="#WR" x="214.5"/><use id="k77-5" href="#WR" x="261"/><use id="k77-6" href="#WR" x="307.5"/><use id="k77-7" href="#WR" x="354"/><use id="k77-8" href="#WR" x="400.5"/><use id="k77-9" href="#BR" x="447"/></g>
<g id="row78" transform="translate(0 4066)"><use href="#gb"/><text class="L" x="18.8" y="4.3">78</text><text class="R" x="503" y="4.3">78</text><use id="k78-1" href="#BL" x="75"/><use id="k78-2" href="#WL" x="121.5"/><use id="k78-3" href="#WL" x="168"/><use id="k78-4" href="#WL" x="214.5"/><use id="k78-5" href="#WL" x="261"/><use id="k78-6" href="#WL" x="307.5"/><use id="k78-7" href="#WL" x="354"/><use id="k78-8" href="#WL" x="400.5"/><use id="k78-9" href="#BL" x="447"/></g>
<g id="row79" transform="translate(0 4118)"><use href="#gb"/><text class="L" x="18.8" y="4.3">79</text><text class="R" x="503" y="4.3">79</text><use id="k79-1" href="#BR" x="75"/><use id="k79-2" href="#WR" x="121.5"/><use id="k79-3" href="#WR" x="168"/><use id="k79-4" href="#WR" x="214.5"/><use id="k79-5" href="#WR" x="261"/><use id="k79-6" href="#WR" x="307.5"/><use id="k79-7" href="#WR" x="354"/><use id="k79-8" href="#WR" x="400.5"/><use id="k79-9" href="#BR" x="447"/></g>
<g id="row80" transform="translate(0 4170)"><use href="#gR"/><text class="L" x="18.8" y="4.3">80</text><text class="R" x="503" y="4.3">80</text><use href="#sl" class="w"/><text class="s" x="30" y="3.6">D</text><use id="k80-1" href="#BL" x="75"/><use id="k80-2" href="#WL" x="121.5"/><use id="k80-3" href="#WL" x="168"/><use id="k80-4" href="#WL" x="214.5"/><use id="k80-5" href="#WL" x="261"/><use id="k80-6" href="#WL" x="307.5"/><use id="k80-7" href="#WL" x="354"/><use id="k80-8" href="#WL" x="400.5"/><use id="k80-9" href="#BL" x="447"/></g>
<g id="row81" transform="translate(0 4222)"><use href="#gb"/><text class="L" x="18.8" y="4.3">81</text><text class="R" x="503" y="4.3">81</text><use id="k81-1" href="#BR" x="75"/><use id="k81-2" href="#RR" x="121.5"/><use id="k81-3" href="#RR" x="168"/><use id="k81-4" href="#RR" x="214.5"/><use id="k81-5" href="#RR" x="261"/><use id="k81-6" href="#RR" x="307.5"/><use id="k81-7" href="#RR" x="354"/><use id="k81-8" href="#RR" x="400.5"/><use id="k81-9" href="#BR" x="447"/></g>
<g id="row82" transform="translate(0 4274)"><use href="#gb"/><text class="L" x="18.8" y="4.3">82</text><text class="R" x="503" y="4.3">82</text><use id="k82-1" href="#BL" x="75"/><use id="k82-2" href="#RL" x="121.5"/><use id="k82-3" href="#RL" x="168"/><use id="k82-4" href="#RL" x="214.5"/><use id="k82-5" href="#RL" x="261"/><use id="k82-6" href="#RL" x="307.5"/><use id="k82-7" href="#RL" x="354"/><use id="k82-8" href="#RL" x="400.5"/><use id="k82-9" href="#BL" x="447"/></g>
<g id="row83" transform="translate(0 4326)"><use href="#gb"/><text class="L" x="18.8" y="4.3">83</text><text class="R" x="503" y="4.3">83</text><use id="k83-1" href="#BR" x="75"/><use id="k83-2" href="#RR" x="121.5"/><use id="k83-3" href="#RR" x="168"/><use id="k83-4" href="#RR" x="214.5"/><use id="k83-5" href="#RR" x="261"/><use id="k83-6" href="#RR" x="307.5"/><use id="k83-7" href="#RR" x="354"/><use id="k83-8" href="#RR" x="400.5"/><use id="k83-9" href="#BR" x="447"/></g>
<g id="row84" transform="translate(0 4378)"><use href="#gb"/><text class="L" x="18.8" y="4.3">84</text><text class="R" x="503" y="4.3">84</text><use id="k84-1" href="#BL" x="75"/><use id="k84-2" href="#RL" x="121.5"/><use id="k84-3" href="#RL" x="168"/><use id="k84-4" href="#RL" x="214.5"/><use id="k84-5" href="#RL" x="261"/><use id="k84-6" href="#RL" x="307.5"/><use id="k84-7" href="#RL" x="354"/><use id="k84-8" href="#RL" x="400.5"/><use id="k84-9" href="#BL" x="447"/></g>
<g id="row85" transform="translate(0 4430)"><use href="#gL"/><text class="L" x="18.8" y="4.3">85</text><text class="R" x="503" y="4.3">85</text><use href="#sr" class="r"/><text class="s" x="492.5" y="3.6" fill="#fff">C</text><use id="k85-1" href="#BR" x="75"/><use id="k85-2" href="#RR" x="121.5"/><use id="k85-3" href="#RR" x="168"/><use id="k85-4" href="#RR" x="214.5"/><use id="k85-5" href="#RR" x="261"/><use id="k85-6" href="#RR" x="307.5"/><use id="k85-7" href="#RR" x="354"/><use id="k85-8" href="#RR" x="400.5"/><use id="k85-9" href="#BR" x="447"/></g>
<g id="row86" transform="translate(0 4482)"><use href="#gb"/><text class="L" x="18.8" y="4.3">86</text><text class="R" x="503" y="4.3">86</text><use id="k86-1" href="#BL" x="75"/><use id="k86-2" href="#BL" x="121.5"/><use id="k86-3" href="#BL" x="168"/><use id="k86-4" href="#BL" x="214.5"/><use id="k86-5" href="#BL" x="261"/><use id="k86-6" href="#BL" x="307.5"/><use id="k86-7" href="#BL" x="354"/><use id="k86-8" href="#BL" x="400.5"/><use id="k86-9" href="#BL" x="447"/></g>
<g id="row87" transform="translate(0 4534)"><use href="#gb"/><text class="L" x="18.8" y="4.3">87</text><text class="R" x="503" y="4.3">87</text><use id="k87-1" href="#BR" x="75"/><use id="k87-2" href="#BR" x="121.5"/><use id="k87-3" href="#BR" x="168"/><use id="k87-4" href="#BR" x="214.5"/><use id="k87-5" href="#BR" x="261"/><use id="k87-6" href="#BR" x="307.5"/><use id="k87-7" href="#BR" x="354"/><use id="k87-8" href="#BR" x="400.5"/><use id="k87-9" href="#BR" x="447"/></g>
<g id="row88" transform="translate(0 4586)"><use href="#gR"/><text class="L" x="18.8" y="4.3">88</text><text class="R" x="503" y="4.3">88</text><use href="#sl" class="b"/><text class="s" x="30.5" y="3.6" fill="#fff">A</text><use id="k88-1" href="#BL" x="75"/><use id="k88-2" href="#BL" x="121.5"/><use id="k88-3" href="#BL" x="168"/><use id="k88-4" href="#BL" x="214.5"/><use id="k88-5" href="#BL" x="261"/><use id="k88-6" href="#BL" x="307.5"/><use id="k88-7" href="#BL" x="354"/><use id="k88-8" href="#BL" x="400.5"/><use id="k88-9" href="#BL" x="447"/></g>
</g>
<text x="261.5" y="2329.3" font-size="15" font-weight="bold" fill="#3c3c3c" text-anchor="middle" textLength="137" lengthAdjust="spacingAndGlyphs">BRACELETBOOK.COM</text>
</g>
</svg>
